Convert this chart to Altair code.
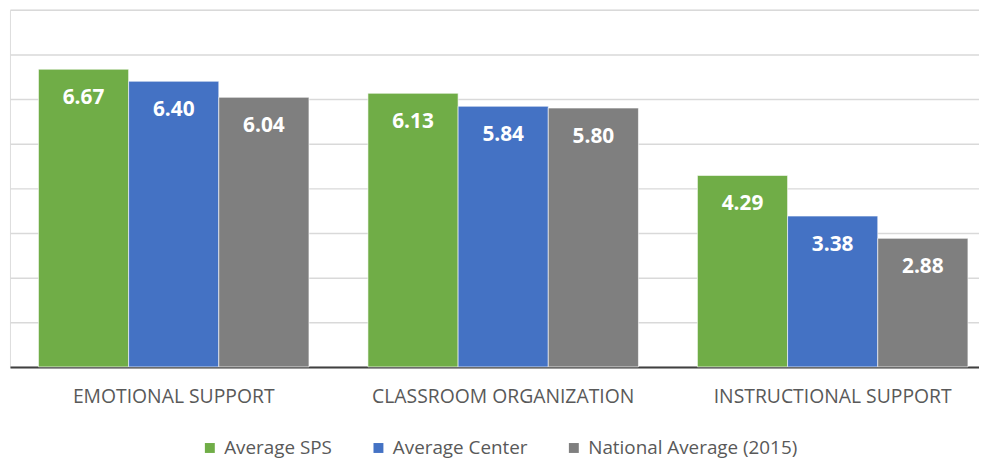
import altair as alt
import pandas as pd

categories = ["EMOTIONAL SUPPORT", "CLASSROOM ORGANIZATION", "INSTRUCTIONAL SUPPORT"]
series = ["Average SPS", "Average Center", "National Average (2015)"]
sps = [6.67, 6.13, 4.29]
center = [6.40, 5.84, 3.38]
national = [6.04, 5.80, 2.88]
colors = ["#70AD47", "#4472C4", "#7F7F7F"]

rows = []
for s, vals in zip(series, [sps, center, national]):
    for c, v in zip(categories, vals):
        rows.append({"category": c, "series": s, "value": v})
df = pd.DataFrame(rows)

FONT = "Open Sans"

x = alt.X("category:N", sort=categories, title=None,
          scale=alt.Scale(paddingInner=0.179, paddingOuter=0.06, align=0.72),
          axis=alt.Axis(labelAngle=0, ticks=False, domainColor="#404040", domainWidth=2,
                        labelColor="#595959", labelFontSize=19.5, labelFont=FONT,
                        labelPadding=21, labelLimit=0))
y = alt.Y("value:Q", title=None, scale=alt.Scale(domain=[0, 8], nice=False),
          axis=alt.Axis(values=list(range(0, 9)), labels=False, ticks=False, domain=False,
                        grid=True, gridColor="#D9D9D9", gridWidth=1.5))
xo = alt.XOffset("series:N", sort=series, scale=alt.Scale(paddingInner=0.0))
color = alt.Color("series:N", sort=series, scale=alt.Scale(domain=series, range=colors),
                  legend=alt.Legend(title=None, orient="none", legendX=192, legendY=432,
                                    direction="horizontal",
                                    symbolType="square", symbolSize=100, symbolStrokeWidth=0,
                                    labelFont=FONT, labelFontSize=19, labelColor="#595959",
                                    columnPadding=37, labelOffset=5, labelLimit=0))

bars = alt.Chart(df).mark_bar(stroke="#ffffff", strokeWidth=1, strokeOpacity=0.6).encode(
    x=x, y=y, xOffset=xo, color=color)

labels = alt.Chart(df).mark_text(color="white", fontWeight="bold", fontSize=21, font=FONT,
                                 baseline="middle", dy=29).encode(
    x=alt.X("category:N", sort=categories),
    y=alt.Y("value:Q"),
    xOffset=alt.XOffset("series:N", sort=series),
    text=alt.Text("value:Q", format=".2f"))

chart = (bars + labels).properties(
    width=977, height=360,
    padding={"left": 2, "top": 0, "right": 0, "bottom": 0},
).configure_view(stroke=None).configure(background="white")

chart.save("out.html", embed_options={"renderer": "svg", "actions": False})
